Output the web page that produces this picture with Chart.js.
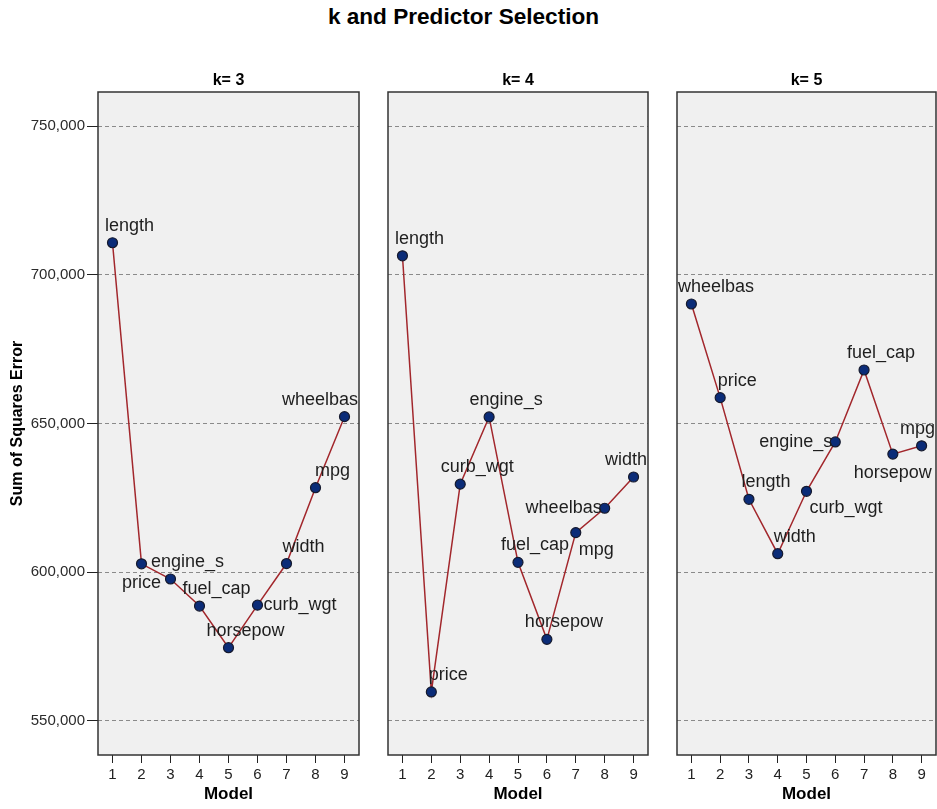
<!DOCTYPE html>
<html>
<head>
<meta charset="utf-8">
<title>k and Predictor Selection</title>
<script src="https://cdn.jsdelivr.net/npm/chart.js@4.4.0/dist/chart.umd.min.js"></script>
<style>
  body { margin: 0; background: #fff; }
  #wrap { position: relative; width: 937px; height: 809px; overflow: hidden; }
  h1 { position: absolute; left: 0; top: 4px; width: 927px; margin: 0; text-align: center;
       font: bold 22.6px 'Liberation Sans', Arial, sans-serif; line-height: 26px; color: #000; }
  canvas { position: absolute; top: 0; }
</style>
</head>
<body>
<div id="wrap">
  <h1>k and Predictor Selection</h1>
  <canvas id="graph-1" width="372" height="809" style="left:0px"></canvas>
  <canvas id="graph-2" width="280" height="809" style="left:376px"></canvas>
  <canvas id="graph-3" width="280" height="809" style="left:665px"></canvas>
</div>
<script>
// data
const models  = ['1', '2', '3', '4', '5', '6', '7', '8', '9']
const yTicks  = [550000, 600000, 650000, 700000, 750000]

const sse_k3  = [710800, 602800, 597700, 588600, 574600, 588900, 602900, 628400, 652300]
const vars_k3 = ['length', 'price', 'engine_s', 'fuel_cap', 'horsepow', 'curb_wgt', 'width', 'mpg', 'wheelbas']

const sse_k4  = [706400, 559700, 629600, 652200, 603300, 577400, 613300, 621500, 632000]
const vars_k4 = ['length', 'price', 'curb_wgt', 'engine_s', 'fuel_cap', 'horsepow', 'mpg', 'wheelbas', 'width']

const sse_k5  = [690200, 658700, 624500, 606200, 627200, 643800, 668000, 639700, 642500]
const vars_k5 = ['wheelbas', 'price', 'length', 'width', 'curb_wgt', 'engine_s', 'fuel_cap', 'horsepow', 'mpg']

// where each label sits around its point
const place_k3 = ['N', 'S', 'N', 'N', 'N', 'E', 'N', 'N', 'N']
const place_k4 = ['N', 'N', 'N', 'N', 'N', 'N', 'SE', 'W', 'N']
const place_k5 = ['N', 'N', 'N', 'N', 'SE', 'W', 'N', 'S', 'N']

const FONT = "'Liberation Sans', Arial, sans-serif"

const frame = {
    id: 'frame',
    beforeDraw(chart){
        let { ctx, chartArea: a } = chart
        ctx.save()
        ctx.fillStyle = '#f0f0f0'
        ctx.fillRect(a.left, a.top, a.right - a.left, a.bottom - a.top)
        ctx.restore()
    },
    afterDraw(chart, args, opts){
        let { ctx, chartArea: a } = chart
        ctx.save()
        ctx.strokeStyle = '#333'
        ctx.lineWidth = 1.5
        ctx.strokeRect(a.left, a.top, a.right - a.left, a.bottom - a.top)
        ctx.fillStyle = '#000'
        ctx.font = 'bold 16px ' + FONT
        ctx.textAlign = 'center'
        ctx.textBaseline = 'middle'
        ctx.fillText(opts.title, (a.left + a.right) / 2, a.top - 11.5)
        ctx.restore()
    }
}

const pointLabels = {
    id: 'pointLabels',
    afterDatasetsDraw(chart, args, opts){
        let { ctx, chartArea: a } = chart
        let meta = chart.getDatasetMeta(0)
        ctx.save()
        ctx.font = '18px ' + FONT
        ctx.fillStyle = '#1e1e1e'
        ctx.textBaseline = 'middle'
        ctx.textAlign = 'left'
        meta.data.forEach((pt, i) => {
            let text = opts.names[i]
            let w = ctx.measureText(text).width
            let left = pt.x + 17 - w / 2
            let y = pt.y - 17
            switch(opts.place[i]){
                case 'S':  left = pt.x - w / 2; y = pt.y + 19; break
                case 'SE': left = pt.x + 3;     y = pt.y + 17; break
                case 'E':  left = pt.x + 6;     y = pt.y;      break
                case 'W':  left = pt.x - 3 - w; y = pt.y;      break
            }
            left = Math.max(a.left + 1, Math.min(left, a.right - 1 - w))
            ctx.fillText(text, left, y)
        })
        ctx.restore()
    }
}

const makeChart = (id, k, values, names, place, first, padLeft, padRight) => {
    let ctx = document.getElementById(id).getContext('2d')
    return new Chart(ctx, {
        type: 'line',
        data: {
            labels: models,
            datasets: [{
                data: values,
                borderColor: '#a2272c',
                borderWidth: 1.5,
                pointRadius: 5,
                pointBackgroundColor: '#0b2c78',
                pointBorderColor: '#161a2e',
                pointBorderWidth: 1.2,
                tension: 0
            }]
        },
        options: {
            responsive: false,
            animation: false,
            events: [],
            layout: { padding: { left: padLeft, right: padRight, top: 92, bottom: 0 } },
            plugins: {
                legend: { display: false },
                tooltip: { enabled: false },
                frame: { title: 'k= ' + k },
                pointLabels: { names: names, place: place }
            },
            scales: {
                x: {
                    type: 'category',
                    offset: true,
                    grid: { drawOnChartArea: false, tickLength: 8, tickColor: '#222', tickWidth: 1 },
                    border: { display: false },
                    ticks: { font: { size: 15, family: FONT }, color: '#222', padding: 3, maxRotation: 0, autoSkip: false },
                    title: { display: true, text: 'Model', color: '#000',
                             font: { size: 17, weight: 'bold', family: FONT }, padding: { top: 0, bottom: 4 } },
                    afterFit: s => { s.height = 54 }
                },
                y: {
                    type: 'linear',
                    min: 538500,
                    max: 761500,
                    afterBuildTicks: s => { s.ticks = yTicks.map(v => ({ value: v })) },
                    grid: { color: '#8a8a8a', lineWidth: 1, drawTicks: first, tickLength: 11, tickColor: '#222', tickWidth: 1 },
                    border: { display: false, dash: [4, 3] },
                    ticks: {
                        display: first,
                        font: { size: 15, family: FONT },
                        color: '#2b2b2b',
                        padding: 2,
                        callback: v => String(v).replace(/\B(?=(\d{3})+(?!\d))/g, ',')
                    },
                    title: { display: first, text: 'Sum of Squares Error', color: '#000',
                             font: { size: 16, weight: 'bold', family: FONT }, padding: { top: 8, bottom: 0 } },
                    afterFit: s => { s.width = first ? 98 : 0 }
                }
            }
        },
        plugins: [frame, pointLabels]
    })
}

makeChart('graph-1', 3, sse_k3, vars_k3, place_k3, true, 0, 13)
makeChart('graph-2', 4, sse_k4, vars_k4, place_k4, false, 12, 8)
makeChart('graph-3', 5, sse_k5, vars_k5, place_k5, false, 12, 9)
</script>
</body>
</html>
